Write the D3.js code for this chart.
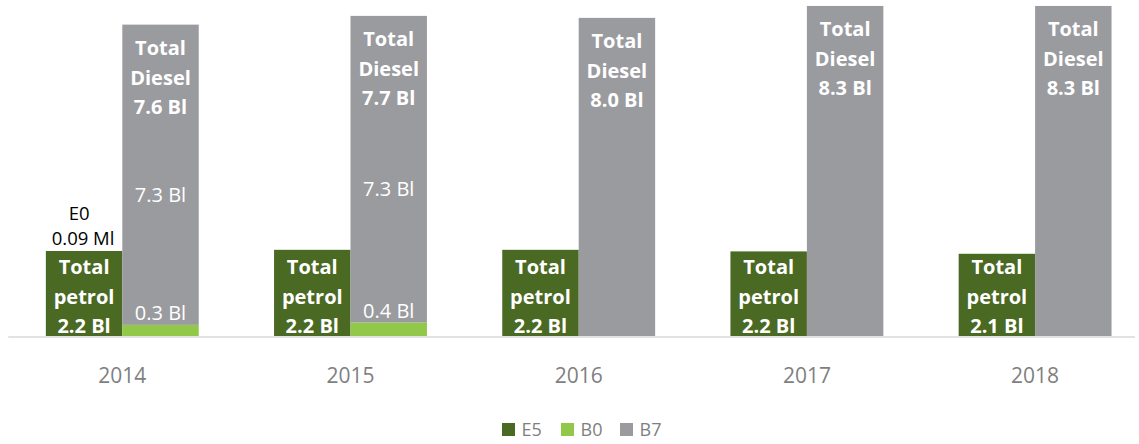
<!DOCTYPE html>
<html>
<head>
<meta charset="utf-8">
<script src="https://cdn.jsdelivr.net/npm/d3@7"></script>
<style>
  body { margin: 0; background: #fff; }
  svg text { font-family: "Open Sans", "Noto Sans", sans-serif; }
</style>
</head>
<body>
<div id="chart"></div>
<script>
// values in billion litres
var years = ["2014", "2015", "2016", "2017", "2018"];
var petrolE5 = [2.14, 2.17, 2.17, 2.13, 2.07];
var dieselB0 = [0.28, 0.34, 0, 0, 0];
var dieselB7 = [7.56, 7.72, 8.01, 8.31, 8.31];

var petrolLabels = ["2.2 Bl", "2.2 Bl", "2.2 Bl", "2.2 Bl", "2.1 Bl"];
var dieselLabels = ["7.6 Bl", "7.7 Bl", "8.0 Bl", "8.3 Bl", "8.3 Bl"];
var b7Labels = ["7.3 Bl", "7.3 Bl", "", "", ""];
var b0Labels = ["0.3 Bl", "0.4 Bl", "", "", ""];
var e0Note = ["E0", "0.09 Ml"];

var legendNames = ["E5", "B0", "B7"];
var colors = {E5: "#4a6922", B0: "#92c84a", B7: "#9a9b9f"};

var svgWidth = 1139;
var svgHeight = 444;
var baseY = 336;

var svg = d3.select("#chart")
    .append("svg")
    .attr("width", svgWidth)
    .attr("height", svgHeight);

var x0 = d3.scaleBand()
    .domain(years)
    .range([8.2, 1149.2])
    .paddingInner(0.33)
    .paddingOuter(0.165);

var x1 = d3.scaleBand()
    .domain(["petrol", "diesel"])
    .range([0, x0.bandwidth()]);

var y = d3.scaleLinear()
    .domain([0, 8.46])
    .range([baseY, 0]);

var data = years.map(function(yr, i) {
    return {
        year: yr,
        E5: petrolE5[i],
        B0: dieselB0[i],
        B7: dieselB7[i],
        petrolLabel: petrolLabels[i],
        dieselLabel: dieselLabels[i],
        b7Label: b7Labels[i],
        b0Label: b0Labels[i]
    };
});

// x axis: line + year labels
var xAxis = d3.axisBottom(x0).tickSize(0).tickPadding(0);
var axisG = svg.append("g")
    .attr("transform", "translate(0," + (baseY + 1) + ")")
    .call(xAxis);
axisG.select(".domain").remove();
axisG.selectAll("text")
    .attr("dy", null)
    .attr("y", 46)
    .attr("fill", "#7f7f7f")
    .style("font-size", "21px");
axisG.append("line")
    .attr("x1", x0.range()[0])
    .attr("x2", 1135)
    .attr("stroke", "#d9d9d9")
    .attr("stroke-width", 1.5);

var groups = svg.selectAll(".year")
    .data(data)
    .enter()
    .append("g")
    .attr("class", "year")
    .attr("transform", d => "translate(" + x0(d.year) + ",0)");

var bw = x1.bandwidth();

// petrol bar (E5)
groups.append("rect")
    .attr("x", x1("petrol"))
    .attr("width", bw)
    .attr("y", d => y(d.E5))
    .attr("height", d => baseY - y(d.E5))
    .attr("fill", colors.E5);

// diesel stack: B0 then B7
groups.append("rect")
    .attr("x", x1("diesel"))
    .attr("width", bw)
    .attr("y", d => y(d.B0))
    .attr("height", d => baseY - y(d.B0))
    .attr("fill", colors.B0);

groups.append("rect")
    .attr("x", x1("diesel"))
    .attr("width", bw)
    .attr("y", d => y(d.B0 + d.B7))
    .attr("height", d => y(d.B0) - y(d.B0 + d.B7))
    .attr("fill", colors.B7);

// petrol labels (anchored at bar bottom)
var petrolText = groups.append("text")
    .attr("text-anchor", "middle")
    .attr("fill", "#fff")
    .style("font-size", "20px")
    .style("font-weight", "bold");
["Total", "petrol", null].forEach(function(line, k) {
    petrolText.append("tspan")
        .attr("x", x1("petrol") + bw / 2)
        .attr("y", baseY - 62 + k * 29.5)
        .text(d => line || d.petrolLabel);
});

// diesel totals (anchored at bar top)
var dieselText = groups.append("text")
    .attr("text-anchor", "middle")
    .attr("fill", "#fff")
    .style("font-size", "20px")
    .style("font-weight", "bold");
["Total", "Diesel", null].forEach(function(line, k) {
    dieselText.append("tspan")
        .attr("x", x1("diesel") + bw / 2)
        .attr("y", d => y(d.B0 + d.B7) + 30.5 + k * 29.5)
        .text(d => line || d.dieselLabel);
});

// B7 / B0 segment labels
groups.filter(d => d.b7Label).append("text")
    .attr("text-anchor", "middle")
    .attr("x", x1("diesel") + bw / 2)
    .attr("y", d => y(d.B0 + d.B7 / 2) + 27)
    .attr("fill", "#fff")
    .style("font-size", "20px")
    .text(d => d.b7Label);

groups.filter(d => d.b0Label).append("text")
    .attr("text-anchor", "middle")
    .attr("x", x1("diesel") + bw / 2)
    .attr("y", d => y(d.B0) - 4.5)
    .attr("fill", "#fff")
    .style("font-size", "20px")
    .text(d => d.b0Label);

// E0 note above the 2014 petrol bar
var e0 = svg.append("text")
    .attr("text-anchor", "middle")
    .attr("fill", "#000")
    .style("font-size", "18.5px");
e0Note.forEach(function(line, k) {
    e0.append("tspan")
        .attr("x", x0(years[0]) + x1("petrol") + bw / 2 - (k === 0 ? 5 : 1))
        .attr("y", y(petrolE5[0]) - 31 + k * 25)
        .text(line);
});

// legend
var legend = svg.append("g")
    .attr("transform", "translate(502,423)");
var items = legend.selectAll("g")
    .data(legendNames)
    .enter()
    .append("g")
    .attr("transform", (d, i) => "translate(" + (i * 59) + ",0)");
items.append("rect")
    .attr("width", 13)
    .attr("height", 13)
    .attr("fill", d => colors[d]);
items.append("text")
    .attr("x", 19.5)
    .attr("y", 13)
    .attr("fill", "#7f7f7f")
    .style("font-size", "18px")
    .text(d => d);
</script>
</body>
</html>
